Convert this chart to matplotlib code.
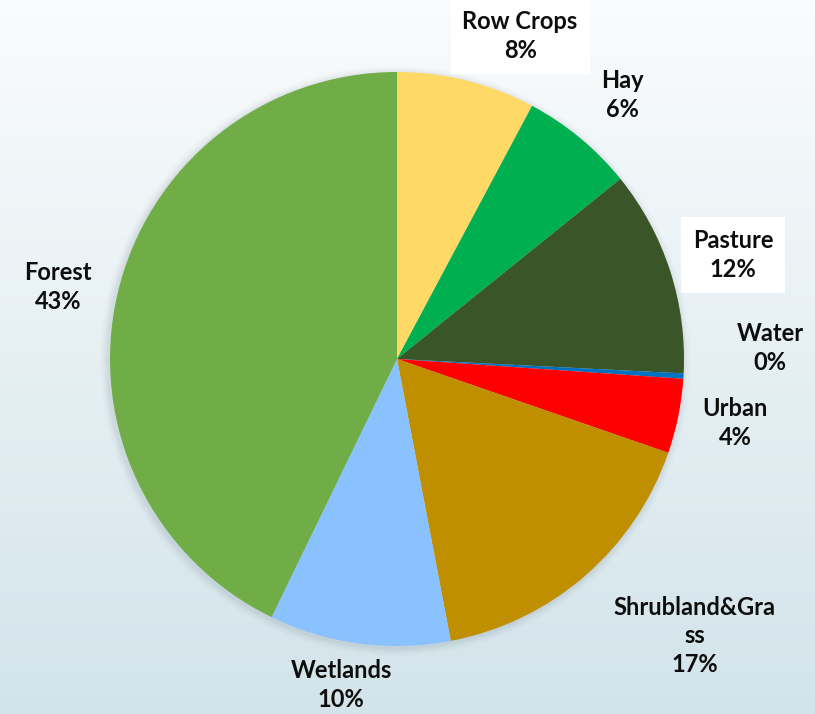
import numpy as np
import matplotlib
matplotlib.use("Agg")
import matplotlib.pyplot as plt
from matplotlib.patches import Circle

# land use shares (percent), clockwise from top
categories = ["Row Crops", "Hay", "Pasture", "Water", "Urban",
              "Shrubland&Gra\nss", "Wetlands", "Forest"]
shares = [7.8, 6.4, 11.6, 0.3, 4.2, 16.7, 10.2, 42.8]
colors = ["#FFD966", "#00B050", "#3A5527", "#0070C0", "#FF0000",
          "#BF8F00", "#8AC2FF", "#70AD47"]

# label anchor points (pie radius units), as placed in the original
label_pos = [(0.429, 1.125), (0.787, 0.920), (1.171, 0.362), (1.300, 0.038),
             (1.178, -0.223), (1.038, -0.965), (-0.195, -1.136), (-1.181, 0.251)]
boxed = {"Row Crops", "Pasture"}

plt.rcParams["font.family"] = ["Lato", "DejaVu Sans"]

W, H = 815, 714
fig = plt.figure(figsize=(W / 100, H / 100), dpi=100)

# background gradient
bg = fig.add_axes([0, 0, 1, 1], zorder=0)
grad = np.linspace(0, 1, 256).reshape(-1, 1)
top = np.array([0.980, 0.988, 0.992])
bottom = np.array([0.824, 0.894, 0.918])
img = top + (bottom - top) * grad[:, :, None]
bg.imshow(img, aspect="auto", extent=[0, 1, 0, 1])
bg.axis("off")

ax = fig.add_axes([0, 0, 1, 1], zorder=1)
ax.patch.set_visible(False)
cx, cy, R = 397, 359, 287
ax.axis("off")

# soft shadow
for i, a in enumerate([0.05, 0.04, 0.03, 0.02, 0.01]):
    ax.add_patch(Circle((-0.006, -0.006), 1.0 + 0.006 * (i + 1), color="#5a6a7a",
                        alpha=a, lw=0, zorder=1))

ax.pie(shares, colors=colors, startangle=90, counterclock=False, radius=1.0,
       wedgeprops=dict(linewidth=0), frame=False, center=(0, 0))
ax.set_xlim(-cx / R, (W - cx) / R)
ax.set_ylim(-(H - cy) / R, cy / R)
ax.set_aspect("auto")

for name, val, (lx, ly) in zip(categories, shares, label_pos):
    txt = f"{name}\n{round(val):.0f}%"
    kw = {}
    if name in boxed:
        kw["bbox"] = dict(boxstyle="square,pad=0.5", fc="white", ec="none")
    ax.text(lx, ly, txt, ha="center", va="center", fontsize=17, fontweight="bold",
            color="#0d0d0d", linespacing=1.3, zorder=5, **kw)

fig.savefig("out.png", dpi=100)
